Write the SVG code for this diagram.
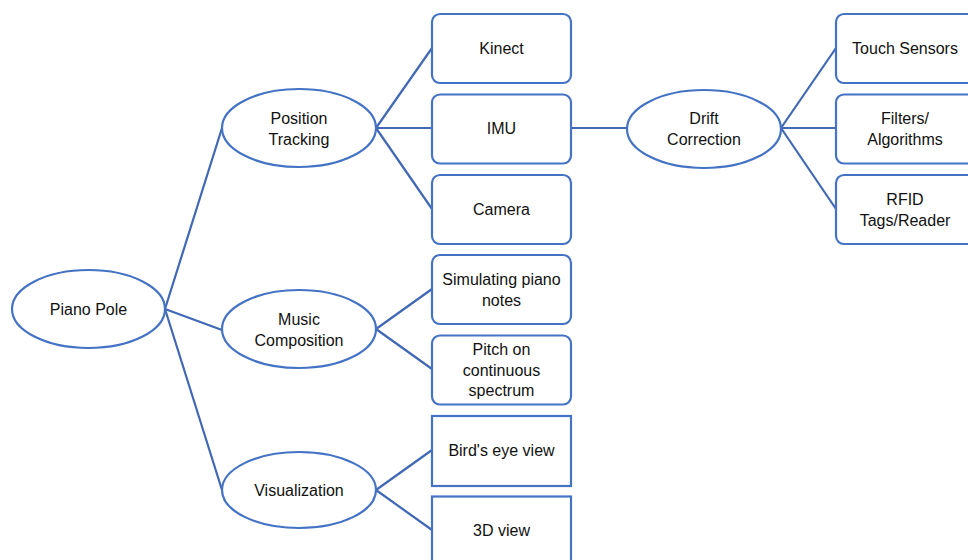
<svg xmlns="http://www.w3.org/2000/svg" width="968" height="560" viewBox="0 0 968 560">
<style>
.n{fill:#fff;stroke:#4472C4;stroke-width:2.2}
.c{stroke:#4068B4;stroke-width:2.2;fill:none}
text{font-family:"Liberation Sans",Arial,sans-serif;font-size:16px;fill:#111;text-anchor:middle}
</style>
<rect width="968" height="560" fill="#fff"/>
<g id="connectors">
<path class="c" d="M165 309L222 128M165 309L222 330M165 309L222 490"/>
<path class="c" d="M376 128L432 48M376 128L432 128M376 128L432 209"/>
<path class="c" d="M571 128L627 128"/>
<path class="c" d="M781 128L836 48M781 128L836 128M781 128L836 209"/>
<path class="c" d="M376 329L432 289M376 329L432 369"/>
<path class="c" d="M376 490L432 450M376 490L432 530"/>
</g>
<g id="piano-pole"><ellipse class="n" cx="88.5" cy="309" rx="76.5" ry="39"/><text x="88.5" y="315">Piano Pole</text></g>
<g id="position-tracking"><ellipse class="n" cx="299" cy="128" rx="77" ry="39"/><text x="299" y="124">Position</text><text x="299" y="145">Tracking</text></g>
<g id="music-composition"><ellipse class="n" cx="299" cy="329" rx="77" ry="39"/><text x="299" y="325">Music</text><text x="299" y="346">Composition</text></g>
<g id="visualization"><ellipse class="n" cx="299" cy="490" rx="77" ry="38"/><text x="299" y="496">Visualization</text></g>
<g id="kinect"><rect class="n" x="432" y="14" width="139" height="69" rx="8"/><text x="501.5" y="54">Kinect</text></g>
<g id="imu"><rect class="n" x="432" y="94.5" width="139" height="69" rx="8"/><text x="501.5" y="134">IMU</text></g>
<g id="camera"><rect class="n" x="432" y="175" width="139" height="69" rx="8"/><text x="501.5" y="215">Camera</text></g>
<g id="simulating"><rect class="n" x="432" y="255" width="139" height="69" rx="8"/><text x="501.5" y="285">Simulating piano</text><text x="501.5" y="306">notes</text></g>
<g id="pitch"><rect class="n" x="432" y="335.5" width="139" height="69" rx="8"/><text x="501.5" y="355">Pitch on</text><text x="501.5" y="376">continuous</text><text x="501.5" y="396">spectrum</text></g>
<g id="birds-eye"><rect class="n" x="432" y="416" width="139" height="70"/><text x="501.5" y="456">Bird's eye view</text></g>
<g id="view-3d"><rect class="n" x="432" y="496.5" width="139" height="75"/><text x="501.5" y="536">3D view</text></g>
<g id="drift-correction"><ellipse class="n" cx="704" cy="129" rx="77" ry="39"/><text x="704" y="124">Drift</text><text x="704" y="145">Correction</text></g>
<g id="touch-sensors"><rect class="n" x="836" y="14" width="150" height="69" rx="8"/><text x="905" y="54">Touch Sensors</text></g>
<g id="filters"><rect class="n" x="836" y="94.5" width="150" height="69" rx="8"/><text x="905" y="124">Filters/</text><text x="905" y="145">Algorithms</text></g>
<g id="rfid"><rect class="n" x="836" y="175" width="150" height="69" rx="8"/><text x="905" y="205">RFID</text><text x="905" y="226">Tags/Reader</text></g>
</svg>
